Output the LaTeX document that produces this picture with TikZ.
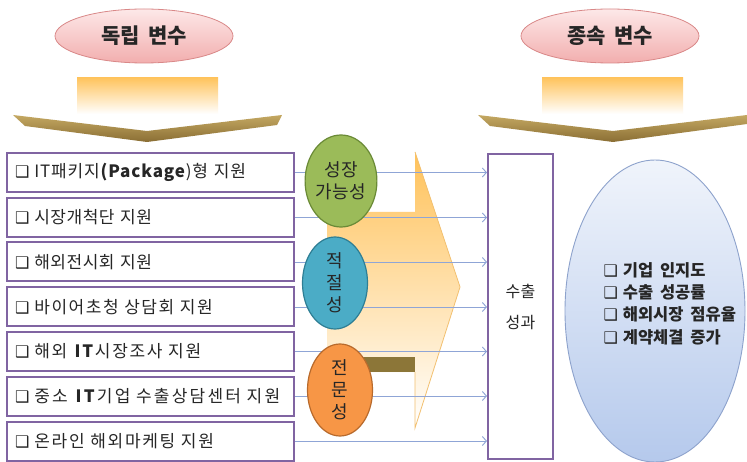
\documentclass[tikz,border=0pt]{standalone}
\usepackage{fontspec}
\setmainfont[WordSpace=2.8,LetterSpace=3]{Noto Sans CJK KR}
\newfontfamily\hdrfont[WordSpace=1.8]{Noto Sans CJK KR}
\newfontfamily\symfont{DejaVu Sans}
\usetikzlibrary{shapes.geometric,arrows.meta}
\definecolor{boxpurple}{HTML}{8064A2}
\definecolor{linkblue}{HTML}{8FA5D6}
\definecolor{goldtop}{HTML}{FFC45E}
\definecolor{chevtop}{HTML}{C4A862}
\definecolor{chevbot}{HTML}{8A6E34}
\definecolor{pinkfill}{HTML}{F2AEAE}
\definecolor{pinktop}{HTML}{FDE8E8}
\definecolor{pinkline}{HTML}{D98888}
\definecolor{greenfill}{HTML}{9BBB59}
\definecolor{greenline}{HTML}{6A8A36}
\definecolor{bluefill}{HTML}{4BACC6}
\definecolor{blueline}{HTML}{2E7E94}
\definecolor{orangefill}{HTML}{F79646}
\definecolor{orangeline}{HTML}{B86A2C}
\definecolor{bigtop}{HTML}{F0F4FB}
\definecolor{bigbot}{HTML}{B5C9EC}
\definecolor{bigline}{HTML}{8DA2CC}
\definecolor{arrowtop}{HTML}{FFC25A}
\definecolor{headline}{HTML}{F2C070}
\definecolor{barbrown}{HTML}{8C7638}
\definecolor{txt}{HTML}{262626}
\newcommand{\cb}{{\symfont\fontsize{16}{16}\selectfont ❑}\hspace{5pt}}
\newcommand{\lsp}[1]{\addfontfeatures{LetterSpace=#1}}
\begin{document}
\begin{tikzpicture}[x=1pt,y=-1pt,
  hdr/.style={ellipse, draw=pinkline, line width=0.8pt, top color=pinktop, bottom color=pinkfill,
    minimum width=178pt, minimum height=54pt, inner sep=0pt,
    font=\hdrfont\bfseries\fontsize{21}{24}\selectfont, text=txt},
  itembox/.style={rectangle, draw=boxpurple, line width=2pt, fill=white,
    minimum width=287pt, minimum height=39pt, text width=271pt, inner xsep=8pt,
    align=left, anchor=west, font=\fontsize{17}{19}\selectfont, text=txt},
  crit/.style={ellipse, line width=1.2pt, minimum width=65pt, minimum height=92pt, inner sep=0pt,
    align=center, font=\fontsize{18}{22}\selectfont, text=txt},
  conn/.style={draw=linkblue, line width=0.9pt, -{Straight Barb[length=4pt,width=9pt]}},
  resbox/.style={rectangle, draw=boxpurple, line width=2pt, fill=white,
    minimum width=65pt, minimum height=305pt, align=center,
    font=\fontsize{16}{19}\selectfont, text=txt},
  fadebar/.style={top color=goldtop, bottom color=white},
  chevron/.style={top color=chevtop, bottom color=chevbot}
]
\useasboundingbox (0,0) rectangle (747,462);
\fill[white] (0,0) rectangle (747,462);

% headers
\node[hdr] (indep) at (144,36) {독립 변수};
\node[hdr] (dep) at (610,36) {종속 변수};

% down arrows (gradient bodies and chevrons)
\path[fadebar] (77,78) rectangle (218,114);
\path[fadebar] (542,78) rectangle (683,114);
\path[chevron] (13,115) -- (147,131) -- (282,115) -- (277,125) -- (147,142) -- (25,126) -- cycle;
\path[chevron] (478,115) -- (613,131) -- (747,115) -- (747,124) -- (613,142) -- (490,126) -- cycle;

% big right arrow
\path[top color=arrowtop, bottom color=white]
  (327,212) -- (415,212) -- (415,152) -- (460,287) -- (415,428) -- (415,372) -- (327,372) -- cycle;
\draw[headline, line width=0.8pt] (415,152) -- (460,287) -- (415,428) -- (415,372);
\fill[barbrown] (327,357) rectangle (415,372);

% item boxes
\node[itembox] (b1) at (6,172.5) {\lsp{5}\cb IT패키지\textbf{(Package})형 지원};
\node[itembox] (b2) at (6,217.5) {\cb 시장개척단 지원};
\node[itembox] (b3) at (6,262) {\cb 해외전시회 지원};
\node[itembox] (b4) at (6,307) {\lsp{9}\cb 바이어초청 상담회 지원};
\node[itembox] (b5) at (6,351.5) {\lsp{10}\cb 해외 \textbf{IT}시장조사 지원};
\node[itembox] (b6) at (6,396) {\lsp{13}\cb 중소 \textbf{IT}기업 수출상담센터 지원};
\node[itembox] (b7) at (6,441) {\lsp{10}\cb 온라인 해외마케팅 지원};

% result box
\node[resbox] (res) at (520.5,306.5) {수출\\[12pt]성과};

% connectors
\foreach \i in {1,...,7} \draw[conn] (b\i.east) -- (b\i.east -| res.west);

% criteria ellipses
\node[crit, draw=greenline, fill=greenfill] (growth) at (341,181) {성장\\가능성};
\node[crit, draw=blueline, fill=bluefill] (fit) at (335,283) {적\\절\\성};
\node[crit, draw=orangeline, fill=orangefill] (expert) at (340,390) {전\\문\\성};

% dependent variables
\node[ellipse, draw=bigline, line width=0.9pt, top color=bigtop, bottom color=bigbot,
  minimum width=180pt, minimum height=302pt, inner sep=0pt] (outc) at (655,311) {};
\node[anchor=west, align=left, text=txt, font=\hdrfont\bfseries\fontsize{16.5}{22.3}\selectfont] (outtext) at (600,303.5)
  {\cb 기업 인지도\\ \cb 수출 성공률\\ \cb 해외시장 점유율\\ \cb 계약체결 증가};
\end{tikzpicture}
\end{document}
